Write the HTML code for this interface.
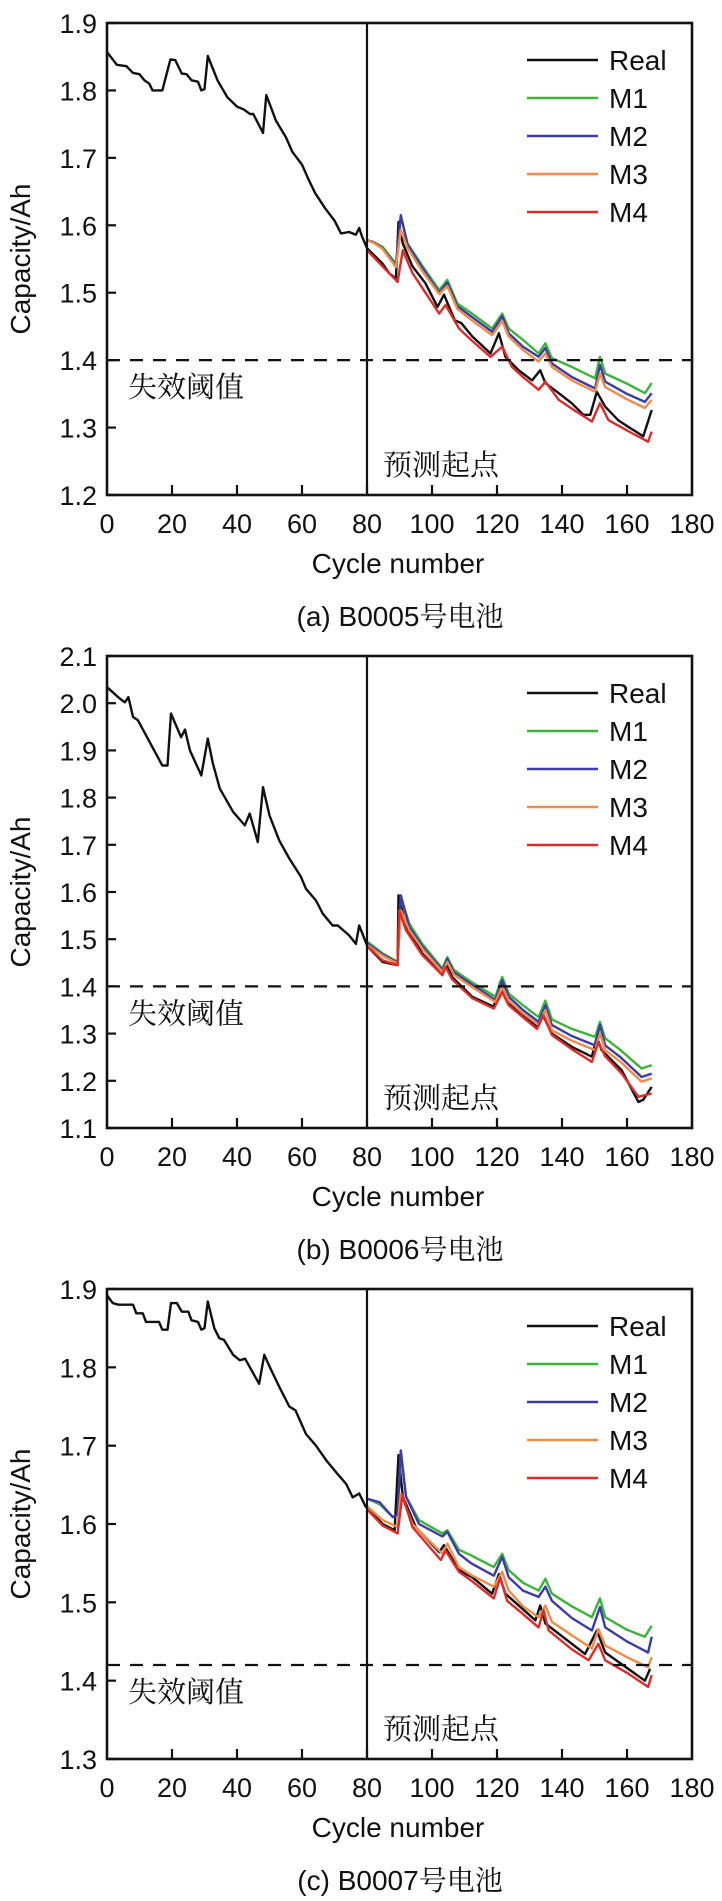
<!DOCTYPE html>
<html><head><meta charset="utf-8">
<style>
html,body{margin:0;padding:0;background:#fff;}
svg{display:block;}
text{font-family:"Liberation Sans",Arial,sans-serif;fill:#111;}
.cjk{font-family:"Liberation Serif","Noto Serif CJK SC","Noto Sans CJK SC",serif;}
.cap{font-family:"Liberation Sans","Noto Serif CJK SC","Noto Sans CJK SC",sans-serif;}
</style></head>
<body>
<svg id="fig" width="722" height="1901" viewBox="0 0 722 1901" xmlns="http://www.w3.org/2000/svg"></svg>
<script>
// ---------- data (cycle, capacity Ah) ----------
const seriesNames = ["Real","M1","M2","M3","M4"];
const seriesColors = ["#111111","#3cb43c","#3c3ca8","#f08c48","#e02a2a"];
const xTicks = [0,20,40,60,80,100,120,140,160,180];
const aTicks = [1.2,1.3,1.4,1.5,1.6,1.7,1.8,1.9];
const bTicks = [1.1,1.2,1.3,1.4,1.5,1.6,1.7,1.8,1.9,2.0,2.1];
const cTicks = [1.3,1.4,1.5,1.6,1.7,1.8,1.9];
const thresholds = [1.4,1.4,1.42];
const startCycle = 80;

const aReal = [[0,1.857],[3,1.838],[6,1.836],[8,1.826],[10,1.824],[11.5,1.815],[13,1.81],[14,1.80],[17,1.80],[19.5,1.846],[21,1.845],[23,1.825],[24.5,1.824],[26,1.815],[28,1.813],[29,1.80],[30,1.802],[31,1.851],[34,1.815],[37,1.79],[40,1.776],[42,1.772],[44,1.765],[45,1.765],[48,1.737],[49,1.793],[52,1.755],[55,1.731],[57,1.709],[60,1.69],[62,1.668],[64,1.648],[67,1.626],[70,1.607],[72,1.588],[74.5,1.590],[76.6,1.586],[77.6,1.596],[78.5,1.583],[80,1.566],[84.8,1.543],[86.8,1.529],[88.9,1.521],[89.7,1.605],[91,1.573],[94,1.539],[98,1.514],[101.7,1.479],[103.7,1.497],[107,1.459],[109,1.455],[112.4,1.435],[118,1.41],[120.6,1.44],[122.6,1.405],[126.7,1.385],[130.8,1.37],[133.3,1.385],[134.9,1.366],[139,1.351],[143,1.336],[146.6,1.319],[148.7,1.319],[150.7,1.353],[153.3,1.331],[157.3,1.311],[160.4,1.301],[165,1.287],[167.6,1.326]];
const aM1 = [[80,1.578],[82,1.575],[84.8,1.568],[88.9,1.543],[90.4,1.613],[92.5,1.573],[97,1.54],[102.2,1.504],[104.7,1.519],[107.8,1.484],[112,1.47],[118.5,1.447],[121.6,1.469],[123.6,1.447],[128,1.43],[132.8,1.41],[134.9,1.425],[136.9,1.403],[143,1.39],[150.2,1.373],[151.7,1.405],[153.3,1.38],[160,1.365],[165.5,1.351],[167.6,1.366]];
const aM2 = [[80,1.578],[82,1.575],[84.8,1.566],[88.9,1.541],[90.4,1.615],[92.5,1.571],[97,1.537],[102.2,1.5],[104.7,1.515],[107.8,1.48],[112,1.465],[118.5,1.442],[121.6,1.465],[123.6,1.44],[128,1.42],[132.8,1.405],[134.9,1.418],[136.9,1.395],[143,1.375],[150.2,1.358],[151.7,1.393],[153.3,1.368],[160,1.35],[165.5,1.338],[167.6,1.351]];
const aM3 = [[80,1.578],[82,1.574],[84.8,1.565],[88.9,1.538],[90.4,1.593],[92.5,1.566],[97,1.532],[102.2,1.498],[104.7,1.51],[107.8,1.476],[112,1.46],[118.5,1.437],[121.6,1.458],[123.6,1.435],[128,1.415],[132.8,1.398],[134.9,1.41],[136.9,1.39],[143,1.37],[150.2,1.353],[151.7,1.38],[153.3,1.36],[160,1.342],[165.5,1.329],[167.6,1.341]];
const aM4 = [[80,1.563],[84.8,1.539],[89.4,1.516],[91,1.563],[94,1.529],[98,1.5],[102.2,1.469],[104.2,1.482],[108.3,1.447],[112,1.43],[118,1.405],[121.6,1.42],[124.6,1.39],[128,1.375],[132.8,1.356],[134.9,1.368],[139,1.341],[144,1.325],[149.2,1.309],[151.7,1.336],[154.3,1.311],[161.4,1.292],[166.5,1.279],[167.6,1.294]];

const bReal = [[0,2.034],[2.3,2.02],[3.9,2.01],[5.5,2.002],[6.6,2.013],[8,1.971],[9.5,1.964],[17,1.868],[18.6,1.868],[19.7,1.978],[22.8,1.928],[24,1.944],[25.5,1.90],[29,1.847],[31,1.925],[32.6,1.872],[34.7,1.819],[38.8,1.77],[42.4,1.741],[43.9,1.766],[46.4,1.706],[48,1.822],[50,1.762],[53,1.709],[56.1,1.671],[59.7,1.632],[61.2,1.607],[64.3,1.582],[66.4,1.554],[69.4,1.529],[71,1.529],[74.5,1.508],[76.6,1.49],[77.6,1.529],[79.6,1.494],[80.2,1.484],[84.8,1.452],[89.4,1.445],[89.7,1.593],[92,1.526],[97,1.47],[103.2,1.424],[104.2,1.452],[106.2,1.42],[112.4,1.378],[119,1.357],[121,1.41],[123.6,1.364],[132.3,1.314],[133.8,1.343],[136.9,1.30],[143,1.272],[149.2,1.251],[150.7,1.293],[152.2,1.265],[158.4,1.222],[163.5,1.155],[165,1.16],[167.6,1.187]];
const bM1 = [[80.2,1.494],[84.8,1.47],[89.4,1.452],[90.4,1.589],[93,1.533],[97,1.49],[103.2,1.438],[104.7,1.462],[106.7,1.435],[112,1.41],[119.5,1.378],[121.6,1.42],[123.6,1.385],[128,1.36],[132.8,1.335],[134.9,1.37],[136.9,1.33],[143,1.31],[150.2,1.293],[151.7,1.325],[153.3,1.29],[158,1.265],[164.5,1.226],[167.6,1.233]];
const bM2 = [[80.2,1.49],[84.8,1.468],[89.4,1.45],[90.4,1.593],[93,1.526],[97,1.485],[103.2,1.434],[104.7,1.458],[106.7,1.43],[112,1.405],[119.5,1.371],[121.6,1.413],[123.6,1.378],[128,1.35],[132.8,1.325],[134.9,1.36],[136.9,1.318],[143,1.295],[150.2,1.275],[151.7,1.318],[153.3,1.275],[158,1.25],[164.5,1.208],[167.6,1.215]];
const bM3 = [[80.2,1.487],[84.8,1.465],[89.4,1.448],[90.4,1.561],[93,1.519],[97,1.48],[103.2,1.43],[104.7,1.452],[106.7,1.425],[112,1.4],[119.5,1.367],[121.6,1.4],[123.6,1.37],[128,1.343],[132.8,1.318],[134.9,1.35],[136.9,1.307],[143,1.285],[150.2,1.265],[151.7,1.30],[153.3,1.265],[158,1.24],[164.5,1.198],[167.6,1.205]];
const bM4 = [[80.2,1.484],[84.8,1.455],[89.4,1.445],[89.9,1.561],[92,1.519],[97,1.466],[103.2,1.424],[104.2,1.441],[106.2,1.415],[112.4,1.375],[119,1.353],[121.6,1.388],[123.6,1.36],[132.3,1.31],[134.3,1.339],[136.9,1.297],[143,1.267],[149.2,1.24],[151.2,1.282],[153.3,1.252],[158.4,1.215],[163.5,1.166],[167.6,1.173]];

const cReal = [[0,1.892],[1.8,1.882],[3.5,1.88],[8,1.88],[9,1.869],[11,1.869],[12,1.858],[16,1.858],[17,1.848],[18.6,1.848],[19.7,1.882],[21.5,1.882],[23,1.871],[25,1.871],[26,1.86],[28,1.858],[29,1.848],[30,1.85],[31,1.884],[33,1.85],[34.6,1.837],[36,1.835],[38.8,1.816],[40.9,1.809],[42.5,1.811],[46.8,1.779],[48.4,1.816],[50,1.801],[53,1.775],[56.1,1.75],[58,1.745],[61.2,1.715],[64.3,1.70],[67.5,1.681],[70.5,1.666],[73.6,1.651],[75.6,1.634],[77.6,1.639],[79.6,1.622],[80.2,1.62],[84.8,1.60],[88.5,1.592],[89.7,1.688],[91,1.635],[95,1.596],[102.2,1.564],[103.7,1.573],[108.3,1.541],[112.4,1.532],[118.5,1.511],[120.6,1.536],[122.6,1.511],[131.8,1.477],[133.3,1.496],[134.9,1.473],[147.1,1.434],[150.7,1.464],[153.3,1.436],[165.5,1.40],[167.1,1.415]];
const cM1 = [[80.2,1.632],[84,1.625],[87.9,1.609],[89.4,1.611],[90.4,1.692],[92,1.635],[96,1.605],[103.2,1.588],[104.7,1.592],[108.3,1.567],[112,1.56],[119,1.545],[121.6,1.562],[123.6,1.541],[128,1.525],[132.8,1.515],[134.9,1.53],[136.9,1.511],[143,1.495],[149.2,1.481],[151.7,1.505],[153.3,1.481],[160,1.465],[165.5,1.456],[167.6,1.47]];
const cM2 = [[80.2,1.632],[83.8,1.628],[87.9,1.609],[89.4,1.612],[90.4,1.694],[92,1.635],[96,1.6],[103.2,1.584],[104.7,1.59],[108.3,1.562],[112,1.55],[119,1.534],[121.6,1.558],[123.6,1.532],[128,1.515],[132.8,1.507],[134.9,1.52],[136.9,1.502],[143,1.48],[149.2,1.464],[151.7,1.494],[153.3,1.468],[160,1.45],[166.5,1.436],[167.6,1.456]];
const cM3 = [[80.2,1.622],[84.8,1.605],[89.4,1.596],[90.4,1.639],[94,1.6],[103.2,1.562],[104.7,1.575],[108.3,1.545],[112,1.535],[119,1.52],[121.6,1.539],[123.6,1.515],[128,1.495],[132.8,1.481],[134.9,1.496],[136.9,1.475],[143,1.458],[149.2,1.441],[151.2,1.466],[153.3,1.445],[160,1.43],[166.5,1.417],[167.6,1.43]];
const cM4 = [[80.2,1.618],[84.8,1.598],[89.4,1.588],[90.9,1.637],[94,1.596],[102.7,1.554],[104.2,1.566],[108.3,1.539],[112,1.528],[119,1.505],[121,1.532],[123.1,1.502],[128,1.485],[132.8,1.468],[134.3,1.49],[135.9,1.464],[143,1.44],[148.2,1.426],[151.2,1.447],[153.3,1.426],[160,1.41],[166.5,1.392],[167.6,1.407]];

const captions = ["(a) B0005号电池","(b) B0006号电池","(c) B0007号电池"];

// ---------- drawing ----------
const NS = "http://www.w3.org/2000/svg";
const svg = document.getElementById("fig");
function mk(tag, attrs, parent) {
  const e = document.createElementNS(NS, tag);
  for (const k in attrs) e.setAttribute(k, attrs[k]);
  (parent || svg).appendChild(e);
  return e;
}
const L = 107, R = 692, XMAX = 180;
const panels = [
  {id:"a", top:23, bottom:495, ticks:aTicks, series:[aReal,aM1,aM2,aM3,aM4]},
  {id:"b", top:656, bottom:1128, ticks:bTicks, series:[bReal,bM1,bM2,bM3,bM4]},
  {id:"c", top:1289, bottom:1759, ticks:cTicks, series:[cReal,cM1,cM2,cM3,cM4]}
];
panels.forEach((p, pi) => {
  const g = mk("g", {});
  
  
  const yMin = p.ticks[0], yMax = p.ticks[p.ticks.length-1];
  const xs = c => L + (c / XMAX) * (R - L);
  const ys = v => p.bottom - (v - yMin) / (yMax - yMin) * (p.bottom - p.top);

  [0,1,2,3,4].forEach(si => {
    const pts = p.series[si].map(d => xs(d[0]).toFixed(1) + "," + ys(d[1]).toFixed(1)).join(" ");
    const pl = mk("polyline", {points:pts, fill:"none", stroke:seriesColors[si], "stroke-width":2.4, "stroke-linejoin":"round"}, g);
    
    
  });

  const th = mk("line", {x1:L, x2:R, y1:ys(thresholds[pi]), y2:ys(thresholds[pi]), stroke:"#111", "stroke-width":2.2, "stroke-dasharray":"13,10"}, g);
  
  
  const tt = mk("text", {x:L+21, y:ys(thresholds[pi])+37, "font-size":29, class:"cjk"}, g);
  tt.textContent = "失效阈值";
  
  

  const sl = mk("line", {x1:xs(startCycle), x2:xs(startCycle), y1:p.top, y2:p.bottom, stroke:"#111", "stroke-width":2.2}, g);
  
  
  const st = mk("text", {x:xs(startCycle)+16, y:p.bottom-20, "font-size":29, class:"cjk"}, g);
  st.textContent = "预测起点";
  
  

  const fr = mk("rect", {x:L, y:p.top, width:R-L, height:p.bottom-p.top, fill:"none", stroke:"#111", "stroke-width":2.6}, g);
  
  

  p.ticks.forEach(v => {
    const tk = mk("line", {x1:L, x2:L+9, y1:ys(v), y2:ys(v), stroke:"#111", "stroke-width":2.2}, g);
    
    
    const tl = mk("text", {x:97, y:ys(v)+10, "font-size":27, "text-anchor":"end"}, g);
    tl.textContent = v.toFixed(1);
    
    
  });
  xTicks.forEach(c => {
    if (c > 0 && c < XMAX) {
      const tk = mk("line", {x1:xs(c), x2:xs(c), y1:p.bottom, y2:p.bottom-10, stroke:"#111", "stroke-width":2.2}, g);
      
      
    }
    const tl = mk("text", {x:xs(c), y:p.bottom+38, "font-size":27, "text-anchor":"middle"}, g);
    tl.textContent = String(c);
    
    
  });

  const xt = mk("text", {x:398, y:p.bottom+78, "font-size":28, "text-anchor":"middle"}, g);
  xt.textContent = "Cycle number";
  
  
  const cy = (p.top + p.bottom) / 2;
  const yt = mk("text", {x:0, y:0, "font-size":28, "text-anchor":"middle", transform:"translate(30," + cy + ") rotate(-90)"}, g);
  yt.textContent = "Capacity/Ah";
  
  
  const cap = mk("text", {x:400, y:p.bottom+131, "font-size":28, "text-anchor":"middle", class:"cap"}, g);
  cap.textContent = captions[pi];
  
  

  const lg = mk("g", {}, g);
  
  
  seriesNames.forEach((n, i) => {
    const y = p.top + 37 + i * 38;
    const ll = mk("line", {x1:527, x2:598, y1:y, y2:y, stroke:seriesColors[i], "stroke-width":2.6}, lg);
    
    
    const lt = mk("text", {x:609, y:y+10, "font-size":28}, lg);
    lt.textContent = n;
    
    
  });
});
</script>
</body></html>
